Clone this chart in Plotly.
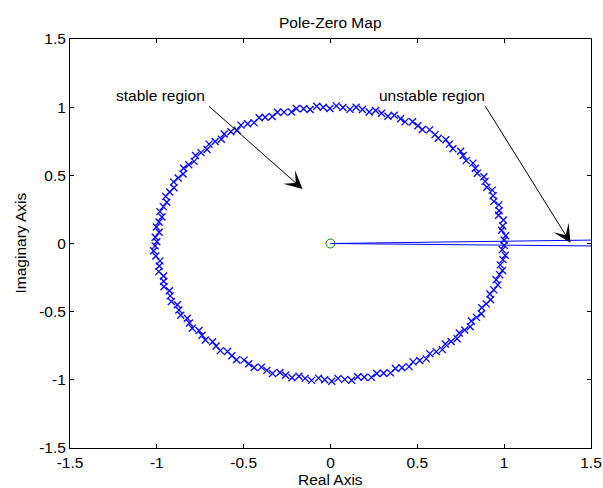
import numpy as np
import plotly.graph_objects as go

# Pole positions, in polar form (angle in degrees, radius)
pole_ang_upper = [1.5, 3.2, 5.6, 7.4, 9.8, 12.1, 13.9, 16.3, 18.2, 20.5, 22.8, 24.6, 27.1, 29.0,
                  31.4, 33.5, 35.7, 37.9, 40.2, 42.1, 44.6, 46.8, 48.9, 51.2, 53.0, 55.6, 57.7,
                  59.8, 62.1, 64.3, 66.2, 68.7, 70.5, 72.9, 75.1, 77.0, 79.4, 81.6, 83.5, 85.9,
                  88.1, 90.2, 92.4, 94.5, 96.8, 98.9, 101.2, 103.1, 105.5, 107.6, 109.8, 112.1,
                  114.0, 116.4, 118.5, 120.7, 122.9, 125.0, 127.3, 129.4, 131.6, 133.8, 135.9,
                  138.2, 140.3, 142.5, 144.7, 146.9, 149.0, 151.3, 153.4, 155.6, 157.8, 160.0,
                  162.2, 164.3, 166.6, 168.7, 170.9, 173.1, 175.2, 177.4, 179.3]
pole_rad_upper = [1.00, 1.01, 0.99, 1.00, 1.01, 0.99, 1.00, 1.01, 0.99, 1.00, 1.01, 0.99, 1.00, 1.01,
                  0.99, 1.00, 1.01, 0.99, 1.00, 1.01, 0.99, 1.00, 1.01, 0.99, 1.00, 1.01, 0.99,
                  1.00, 1.01, 0.99, 1.00, 1.01, 0.99, 1.00, 1.01, 0.99, 1.00, 1.01, 0.99, 1.00,
                  1.01, 0.99, 1.00, 1.01, 0.99, 1.00, 1.01, 0.99, 1.00, 1.01, 0.99, 1.00,
                  1.01, 0.99, 1.00, 1.01, 0.99, 1.00, 1.01, 0.99, 1.00, 1.01, 0.99,
                  1.00, 1.01, 0.99, 1.00, 1.01, 0.99, 1.00, 1.01, 0.99, 1.00, 1.01,
                  0.99, 1.00, 1.01, 0.99, 1.00, 1.01, 0.99, 1.01, 1.00]
pole_ang_lower = [-0.8, -2.6, -4.9, -6.8, -9.1, -11.3, -13.2, -15.6, -17.5, -19.9, -22.0, -24.1,
                  -26.3, -28.4, -30.7, -32.8, -35.0, -37.2, -39.4, -41.5, -43.8, -46.0, -48.1,
                  -50.4, -52.5, -54.7, -56.9, -59.1, -61.3, -63.4, -65.7, -67.8, -70.0, -72.2,
                  -74.4, -76.5, -78.8, -80.9, -83.1, -85.3, -87.5, -89.6, -91.9, -94.0, -96.2,
                  -98.4, -100.6, -102.7, -105.0, -107.1, -109.3, -111.5, -113.7, -115.8, -118.1,
                  -120.2, -122.4, -124.6, -126.8, -128.9, -131.2, -133.3, -135.5, -137.7, -139.9,
                  -142.0, -144.3, -146.4, -148.6, -150.8, -153.0, -155.1, -157.4, -159.5, -161.7,
                  -163.9, -166.1, -168.2, -170.5, -172.6, -174.8, -177.0, -179.0]
pole_rad_lower = [1.00, 0.99, 1.01, 1.00, 0.99, 1.01, 1.00, 0.99, 1.01, 1.00, 0.99, 1.01,
                  1.00, 0.99, 1.01, 1.00, 0.99, 1.01, 1.00, 0.99, 1.01, 1.00, 0.99,
                  1.01, 1.00, 0.99, 1.01, 1.00, 0.99, 1.01, 1.00, 0.99, 1.01, 1.00,
                  0.99, 1.01, 1.00, 0.99, 1.01, 1.00, 0.99, 1.01, 1.00, 0.99, 1.01,
                  1.00, 0.99, 1.01, 1.00, 0.99, 1.01, 1.00, 0.99, 1.01, 1.00,
                  0.99, 1.01, 1.00, 0.99, 1.01, 1.00, 0.99, 1.01, 1.00, 0.99,
                  1.01, 1.00, 0.99, 1.01, 1.00, 0.99, 1.01, 1.00, 0.99, 1.01,
                  1.00, 0.99, 1.01, 1.00, 0.99, 1.01, 1.02, 1.01]

zero_re = [0.0]
zero_im = [0.0]

# Two lines from the origin leaving the plot on the right
line_upper_x = [0.0, 1.5]
line_upper_y = [0.0, 0.025]
line_lower_x = [0.0, 1.5]
line_lower_y = [0.0, -0.018]

x_ticks = [-1.5, -1, -0.5, 0, 0.5, 1, 1.5]
y_ticks = [-1.5, -1, -0.5, 0, 0.5, 1, 1.5]

ang = np.radians(np.array(pole_ang_upper + pole_ang_lower))
rad = np.array(pole_rad_upper + pole_rad_lower)
pole_re = rad * np.cos(ang)
pole_im = rad * np.sin(ang)

FONT = "Liberation Sans, Arial, sans-serif"
FS = 15.5
BLUE = "#0000FF"

fig = go.Figure()
fig.add_trace(go.Scatter(x=line_upper_x, y=line_upper_y, mode="lines",
                         line=dict(color=BLUE, width=1), hoverinfo="skip"))
fig.add_trace(go.Scatter(x=line_lower_x, y=line_lower_y, mode="lines",
                         line=dict(color=BLUE, width=1), hoverinfo="skip"))
fig.add_trace(go.Scatter(x=pole_re, y=pole_im, mode="markers",
                         marker=dict(symbol="x-thin", size=7, line=dict(color=BLUE, width=1.3), color=BLUE)))
fig.add_trace(go.Scatter(x=zero_re, y=zero_im, mode="markers",
                         marker=dict(symbol="circle-open", size=9, color="rgb(0,128,0)",
                                     line=dict(width=1, color="rgb(0,128,0)"))))

axis_common = dict(showline=True, linecolor="black", linewidth=1, mirror="allticks",
                   ticks="inside", ticklen=4, tickcolor="black", tickwidth=1,
                   showgrid=False, zeroline=False, automargin=False,
                   tickfont=dict(family=FONT, size=FS, color="black"))
fig.update_xaxes(range=[-1.5, 1.5], tickvals=x_ticks,
                 ticktext=[f"{v:g}" for v in x_ticks], **axis_common)
fig.update_yaxes(range=[-1.5, 1.5], tickvals=y_ticks,
                 ticktext=[f"{v:g}" for v in y_ticks], **axis_common)

annotations = [
    dict(text="Pole-Zero Map", xref="paper", yref="paper", x=0.5, y=1, yshift=17,
         showarrow=False, xanchor="center", yanchor="middle",
         font=dict(family=FONT, size=FS, color="black")),
    dict(text="Real Axis", xref="paper", yref="paper", x=0.5, y=0, yshift=-31,
         showarrow=False, xanchor="center", yanchor="middle",
         font=dict(family=FONT, size=FS, color="black")),
    dict(text="Imaginary Axis", xref="paper", yref="paper", x=0, y=0.5, xshift=-50,
         showarrow=False, xanchor="center", yanchor="middle", textangle=-90,
         font=dict(family=FONT, size=FS, color="black")),
    dict(text="stable region", x=-0.98, y=1.082, xref="x", yref="y", showarrow=False,
         font=dict(family=FONT, size=FS, color="black")),
    dict(text="unstable region", x=0.584, y=1.082, xref="x", yref="y", showarrow=False,
         font=dict(family=FONT, size=FS, color="black")),
    dict(text="", x=-0.161, y=0.40, ax=-0.708, ay=1.016, xref="x", yref="y",
         axref="x", ayref="y", showarrow=True, arrowhead=3, arrowsize=3,
         arrowwidth=1, arrowcolor="black", standoff=0, startstandoff=0),
    dict(text="", x=1.382, y=0.005, ax=0.887, ay=1.016, xref="x", yref="y",
         axref="x", ayref="y", showarrow=True, arrowhead=3, arrowsize=3,
         arrowwidth=1, arrowcolor="black", standoff=0, startstandoff=0),
]

fig.update_layout(width=603, height=488, margin=dict(l=70, r=12, t=39, b=40),
                  plot_bgcolor="white", paper_bgcolor="white", showlegend=False,
                  annotations=annotations, font=dict(family=FONT, size=FS, color="black"))

fig.write_html("out.html")
